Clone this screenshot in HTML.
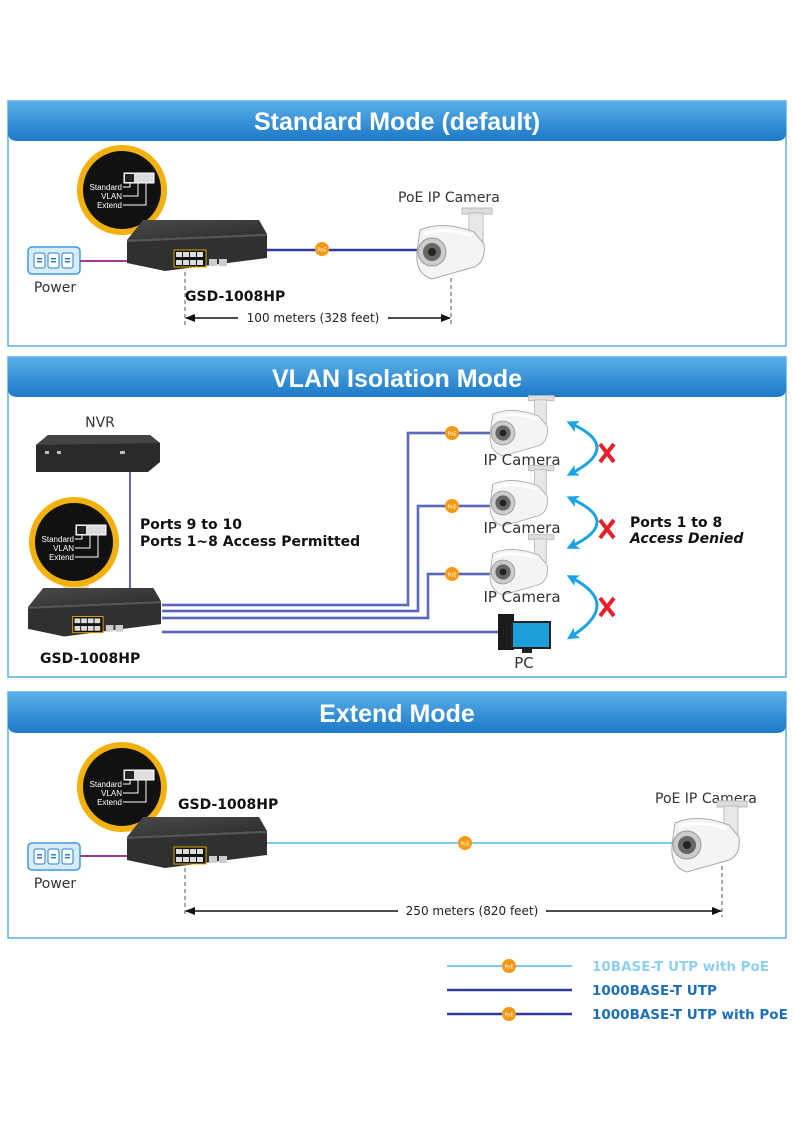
<!DOCTYPE html>
<html><head><meta charset="utf-8"><style>
html,body{margin:0;padding:0;background:#fff}
svg{display:block}
text{font-family:"DejaVu Sans","Liberation Sans",sans-serif}
text.h{font-family:"Liberation Sans",sans-serif}
text.s{font-family:"Liberation Sans",sans-serif}
</style></head><body>
<svg width="794" height="1123" viewBox="0 0 794 1123" xmlns="http://www.w3.org/2000/svg">
<defs>
<linearGradient id="hdr" x1="0" y1="0" x2="0" y2="1"><stop offset="0" stop-color="#5ab0ea"/><stop offset="1" stop-color="#1d78c6"/></linearGradient>
<linearGradient id="swtop" x1="0" y1="0" x2="1" y2="1"><stop offset="0" stop-color="#4a4a4a"/><stop offset="1" stop-color="#2c2c2c"/></linearGradient>
<g id="sw">
<polygon points="16,0 132,0 140,14 0,20" fill="url(#swtop)"/>
<polygon points="0,20 140,14 140,38 38,51 0,43" fill="#303030"/>
<polygon points="0,20 140,14 140,16 0,22" fill="#555"/>
<rect x="47" y="30" width="32" height="17" fill="#111" stroke="#e0a800" stroke-width="1"/>
<g fill="#ddd"><rect x="49" y="32" width="6" height="5"/><rect x="56" y="32" width="6" height="5"/><rect x="63" y="32" width="6" height="5"/><rect x="70" y="32" width="6" height="5"/><rect x="49" y="40" width="6" height="5"/><rect x="56" y="40" width="6" height="5"/><rect x="63" y="40" width="6" height="5"/><rect x="70" y="40" width="6" height="5"/></g>
<rect x="82" y="39" width="8" height="7" fill="#ccc"/><rect x="92" y="39" width="8" height="7" fill="#ccc"/>
</g>
<g id="zc">
<circle r="42" fill="#111" stroke="#f3b10e" stroke-width="6"/>
<rect x="2" y="-17" width="30" height="10" fill="#ddd" stroke="#fff"/>
<rect x="3" y="-16" width="9" height="8" fill="#222"/>
<g font-size="8" fill="#fff" text-anchor="end"><text class="s" x="0" y="0">Standard</text><text class="s" x="0" y="9">VLAN</text><text class="s" x="0" y="18">Extend</text></g>
<path d="M1,-3 H8 V-7 M1,6 H16 V-7 M1,15 H24 V-7" stroke="#fff" fill="none" stroke-width="1"/>
</g>
<g id="cam">
<rect x="30" y="-44" width="30" height="6" fill="#ddd" stroke="#bbb"/>
<rect x="37" y="-39" width="14" height="28" fill="#e8e8e8" stroke="#bbb"/>
<path d="M-12,-22 Q10,-32 42,-20 L52,-8 Q54,10 42,15 L0,27 Q-17,22 -15,0 Z" fill="#f4f4f4" stroke="#aaa"/>
<path d="M-8,-18 Q12,-26 40,-16" stroke="#fff" stroke-width="3" fill="none"/>
<circle r="14" fill="#ccc" stroke="#999"/><circle r="9" fill="#666"/><circle r="4" fill="#222"/>
</g>
<g id="poe"><circle r="7" fill="#f39a12"/><text y="2.5" font-size="5" fill="#fff" text-anchor="middle">PoE</text></g>
<g id="pwr">
<rect x="0" y="0" width="52" height="27" rx="4" fill="#d8ecfa" stroke="#3d9be0" stroke-width="1.5"/>
<g fill="#fff" stroke="#2a7ec9"><rect x="6" y="6" width="11" height="15" rx="2"/><rect x="20" y="6" width="11" height="15" rx="2"/><rect x="34" y="6" width="11" height="15" rx="2"/></g>
<g fill="#2a7ec9"><rect x="9" y="11" width="5" height="1.5"/><rect x="9" y="14" width="5" height="1.5"/><rect x="23" y="11" width="5" height="1.5"/><rect x="23" y="14" width="5" height="1.5"/><rect x="37" y="11" width="5" height="1.5"/><rect x="37" y="14" width="5" height="1.5"/></g>
</g>
<marker id="ah" markerWidth="10" markerHeight="8" refX="9" refY="4" orient="auto-start-reverse" markerUnits="userSpaceOnUse"><path d="M0,0 L10,4 L0,8 Z" fill="#111"/></marker>
<marker id="ba" markerWidth="12" markerHeight="12" refX="6" refY="6" orient="auto-start-reverse" markerUnits="userSpaceOnUse"><path d="M0,0 L12,6 L0,12 L3,6 Z" fill="#1aa3e6"/></marker>
</defs>

<!-- Panel 1 -->
<rect x="8" y="101" width="778" height="245" fill="#fff" stroke="#5aaee6" stroke-width="1.5"/>
<path d="M8,101 H786 V133 Q786,141 776,141 H18 Q8,141 8,133 Z" fill="url(#hdr)"/>
<text class="h" x="397" y="130" font-size="25" font-weight="bold" fill="#fff" text-anchor="middle">Standard Mode (default)</text>
<use href="#pwr" x="28" y="247"/>
<text x="55" y="292" font-size="14" fill="#333" text-anchor="middle">Power</text>
<line x1="80" y1="261" x2="128" y2="261" stroke="#9b3c9b" stroke-width="2"/>
<line x1="262" y1="250" x2="422" y2="250" stroke="#2e3a9e" stroke-width="2.5"/>
<use href="#poe" x="322" y="249"/>
<polygon points="100,215 144,215 178,250 166,255" fill="#d8a300" opacity="0.45"/>
<use href="#zc" x="122" y="190"/>
<use href="#sw" x="127" y="220"/>
<text x="398" y="202" font-size="14" fill="#333">PoE IP Camera</text>
<use href="#cam" x="432" y="252"/>
<text x="185" y="301" font-size="14" font-weight="bold" fill="#111">GSD-1008HP</text>
<line x1="185" y1="272" x2="185" y2="325" stroke="#555" stroke-dasharray="4,3"/>
<line x1="451" y1="278" x2="451" y2="325" stroke="#555" stroke-dasharray="4,3"/>
<line x1="186" y1="318" x2="450" y2="318" stroke="#111" stroke-width="1.5" marker-start="url(#ah)" marker-end="url(#ah)"/>
<rect x="238" y="310" width="150" height="16" fill="#fff"/>
<text x="313" y="322" font-size="12" fill="#222" text-anchor="middle">100 meters (328 feet)</text>

<!-- Panel 2 -->
<rect x="8" y="357" width="778" height="320" fill="#fff" stroke="#5aaee6" stroke-width="1.5"/>
<path d="M8,357 H786 V389 Q786,397 776,397 H18 Q8,397 8,389 Z" fill="url(#hdr)"/>
<text class="h" x="397" y="387" font-size="25" font-weight="bold" fill="#fff" text-anchor="middle">VLAN Isolation Mode</text>
<text x="100" y="427" font-size="14" fill="#333" text-anchor="middle">NVR</text>
<polygon points="48,435 150,435 160,443 160,462 148,472 36,472 36,445" fill="#2a2a2a"/>
<polygon points="48,435 150,435 160,443 36,445" fill="#444"/>
<rect x="45" y="451" width="4" height="3" fill="#bbb"/><rect x="57" y="451" width="4" height="3" fill="#bbb"/><rect x="120" y="451" width="5" height="3" fill="#bbb"/>
<line x1="130" y1="472" x2="130" y2="592" stroke="#2e3a9e" stroke-width="1.5"/>
<text x="140" y="529" font-size="14" font-weight="bold" fill="#111">Ports 9 to 10</text>
<text x="140" y="546" font-size="14" font-weight="bold" fill="#111">Ports 1~8 Access Permitted</text>
<g fill="none" stroke="#2e3a9e" stroke-width="2.5">
<path d="M162,605 H408 V433 H492"/>
<path d="M162,611 H418 V506 H492"/>
<path d="M162,618 H428 V574 H492"/>
<path d="M162,632 H500"/>
</g>
<g fill="none" stroke="#9fb8ee" stroke-width="0.8">
<path d="M162,605 H408 V433 H492"/><path d="M162,611 H418 V506 H492"/><path d="M162,618 H428 V574 H492"/><path d="M162,632 H500"/>
</g>
<use href="#poe" x="452" y="433"/><use href="#poe" x="452" y="506"/><use href="#poe" x="452" y="574"/>
<polygon points="58,572 90,572 86,618 74,618" fill="#d8a300" opacity="0.4"/>
<use href="#zc" x="74" y="542"/>
<g transform="translate(28,588) scale(0.95)"><use href="#sw"/></g>
<text x="40" y="663" font-size="14" font-weight="bold" fill="#111">GSD-1008HP</text>
<g transform="translate(503,433) scale(0.85)"><use href="#cam"/></g>
<g transform="translate(503,503) scale(0.85)"><use href="#cam"/></g>
<g transform="translate(503,572) scale(0.85)"><use href="#cam"/></g>
<g font-size="15" fill="#333" text-anchor="middle"><text x="522" y="465">IP Camera</text><text x="522" y="533">IP Camera</text><text x="522" y="602">IP Camera</text><text x="524" y="668">PC</text></g>
<!-- PC -->
<rect x="498" y="614" width="16" height="36" fill="#1b1b1b"/>
<rect x="512" y="622" width="38" height="26" fill="#1a9fd8" stroke="#222" stroke-width="2"/>
<rect x="522" y="648" width="10" height="5" fill="#222"/>
<g fill="none" stroke="#1aa3e6" stroke-width="3">
<path d="M572,424 Q622,447 572,473" marker-start="url(#ba)" marker-end="url(#ba)"/>
<path d="M572,499 Q622,522 572,546" marker-start="url(#ba)" marker-end="url(#ba)"/>
<path d="M572,578 Q622,604 572,636" marker-start="url(#ba)" marker-end="url(#ba)"/>
</g>
<g stroke="#e8202a" stroke-width="4"><path d="M600,444 L614,462 M614,444 L600,462"/><path d="M600,520 L614,538 M614,520 L600,538"/><path d="M600,598 L614,616 M614,598 L600,616"/></g>
<text x="630" y="527" font-size="14" font-weight="bold" fill="#111">Ports 1 to 8</text>
<text x="630" y="543" font-size="14" font-weight="bold" font-style="italic" fill="#111">Access Denied</text>

<!-- Panel 3 -->
<rect x="8" y="692" width="778" height="246" fill="#fff" stroke="#5aaee6" stroke-width="1.5"/>
<path d="M8,692 H786 V725 Q786,733 776,733 H18 Q8,733 8,725 Z" fill="url(#hdr)"/>
<text class="h" x="397" y="722" font-size="25" font-weight="bold" fill="#fff" text-anchor="middle">Extend Mode</text>
<use href="#pwr" x="28" y="843"/>
<text x="55" y="888" font-size="14" fill="#333" text-anchor="middle">Power</text>
<line x1="80" y1="856" x2="129" y2="856" stroke="#9b3c9b" stroke-width="2"/>
<line x1="262" y1="843" x2="676" y2="843" stroke="#7ccaf0" stroke-width="2"/>
<use href="#poe" x="465" y="843"/>
<polygon points="100,812 144,812 180,848 166,853" fill="#d8a300" opacity="0.45"/>
<use href="#zc" x="122" y="787"/>
<use href="#sw" x="127" y="817"/>
<text x="178" y="809" font-size="14" font-weight="bold" fill="#111">GSD-1008HP</text>
<text x="655" y="803" font-size="14" fill="#333">PoE IP Camera</text>
<use href="#cam" x="687" y="845"/>
<line x1="185" y1="868" x2="185" y2="917" stroke="#555" stroke-dasharray="4,3"/>
<line x1="722" y1="866" x2="722" y2="917" stroke="#555" stroke-dasharray="4,3"/>
<line x1="186" y1="911" x2="721" y2="911" stroke="#111" stroke-width="1.5" marker-start="url(#ah)" marker-end="url(#ah)"/>
<rect x="398" y="903" width="148" height="16" fill="#fff"/>
<text x="472" y="915" font-size="12" fill="#222" text-anchor="middle">250 meters (820 feet)</text>

<!-- Legend -->
<line x1="447" y1="966" x2="572" y2="966" stroke="#7ccaf0" stroke-width="2"/>
<use href="#poe" x="509" y="966"/>
<line x1="447" y1="990" x2="572" y2="990" stroke="#2e3a9e" stroke-width="2.5"/>
<line x1="447" y1="1014" x2="572" y2="1014" stroke="#2e3a9e" stroke-width="2.5"/>
<use href="#poe" x="509" y="1014"/>
<g font-size="13.5" font-weight="bold">
<text x="592" y="971" fill="#8fd0f2">10BASE-T UTP with PoE</text>
<text x="592" y="995" fill="#1d6fb8">1000BASE-T UTP</text>
<text x="592" y="1019" fill="#1d6fb8">1000BASE-T UTP with PoE</text>
</g>
</svg>
</body></html>
